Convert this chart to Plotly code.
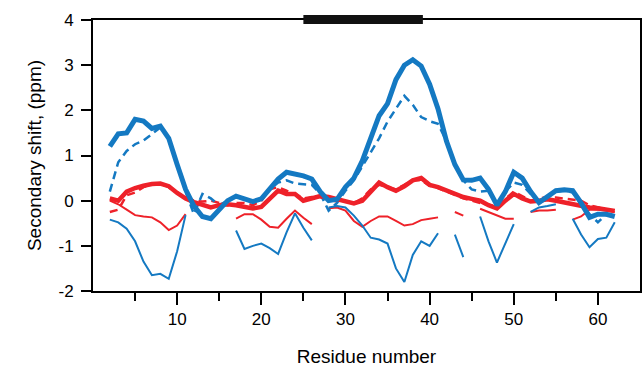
import plotly.graph_objects as go

residues = list(range(2, 63))

blue_thick = [1.20, 1.48, 1.50, 1.80, 1.76, 1.60, 1.65, 1.38, 0.80, 0.25,
              -0.12, -0.35, -0.40, -0.18, 0.00, 0.10, 0.04, -0.02, 0.04, 0.28,
              0.48, 0.63, 0.60, 0.55, 0.48, 0.20, 0.00, 0.03, 0.30, 0.50,
              0.88, 1.40, 1.88, 2.15, 2.68, 3.00, 3.12, 2.98, 2.58, 2.03,
              1.32, 0.80, 0.46, 0.45, 0.50, 0.25, -0.10, 0.20, 0.63, 0.50,
              0.20, -0.04, 0.10, 0.22, 0.24, 0.22, -0.05, -0.37, -0.30, -0.30,
              -0.35]

blue_dash = [0.20, 0.85, 1.10, 1.25, 1.33, 1.47, 1.62, 1.38, 0.80, 0.20,
             -0.30, 0.15, 0.05, -0.10, 0.00, 0.10, 0.04, -0.02, 0.04, 0.25,
             0.40, 0.45, 0.38, 0.37, 0.35, 0.15, -0.22, -0.05, 0.22, 0.45,
             0.75, 1.05, 1.38, 1.75, 2.05, 2.32, 2.12, 1.85, 1.76, 1.70,
             1.32, 0.80, 0.45, 0.25, 0.20, 0.22, -0.08, 0.20, 0.40, 0.35,
             0.15, -0.02, 0.10, 0.20, 0.22, 0.18, -0.05, -0.30, -0.48, -0.30,
             -0.32]

blue_thin = [-0.42, -0.48, -0.62, -0.90, -1.35, -1.65, -1.62, -1.73, -1.12, -0.32,
             None, None, None, None, None, -0.66, -1.07, -1.00, -0.95, -1.05,
             -1.18, -0.70, -0.28, -0.60, -0.88, None, -0.15, -0.12, -0.15, -0.33,
             -0.55, -0.82, -0.86, -0.95, -1.50, -1.80, -1.20, -0.90, -1.00, -0.72,
             None, -0.75, -1.25, None, -0.35, -0.90, -1.37, -0.95, -0.52, None,
             -0.25, -0.15, -0.12, -0.08, None, -0.40, -0.75, -1.03, -0.85, -0.82,
             -0.48]

red_thick = [0.05, 0.00, 0.20, 0.28, 0.33, 0.37, 0.38, 0.32, 0.17, 0.05,
             -0.03, -0.10, -0.15, -0.10, -0.08, -0.10, -0.13, -0.17, -0.14, 0.05,
             0.22, 0.15, 0.15, 0.00, 0.05, 0.10, 0.08, 0.03, 0.00, -0.06,
             0.00, 0.20, 0.40, 0.30, 0.22, 0.32, 0.45, 0.50, 0.35, 0.30,
             0.22, 0.15, 0.08, 0.04, 0.00, -0.10, -0.17, 0.00, 0.15, 0.05,
             -0.02, 0.00, 0.03, 0.00, -0.04, -0.06, -0.10, -0.15, -0.17, -0.20,
             -0.23]

red_dash = [-0.25, -0.20, 0.12, 0.18, 0.30, 0.36, 0.38, 0.30, 0.18, 0.08,
            0.00, -0.02, 0.00, -0.05, -0.10, -0.05, -0.05, -0.10, 0.00, 0.25,
            0.30, 0.22, 0.15, 0.05, 0.08, 0.08, 0.02, -0.02, -0.02, -0.05,
            0.05, 0.25, 0.35, 0.30, 0.25, 0.35, 0.45, 0.45, 0.33, 0.28,
            0.20, 0.12, 0.05, 0.00, -0.05, -0.10, -0.12, 0.05, 0.20, 0.10,
            0.00, 0.05, 0.08, 0.07, 0.05, 0.02, 0.00, -0.10, -0.15, -0.20,
            -0.22]

red_thin = [0.00, -0.08, -0.20, -0.32, -0.35, -0.37, -0.48, -0.65, -0.55, -0.30,
            None, None, None, None, None, -0.40, -0.30, -0.30, -0.42, -0.58,
            -0.60, -0.40, -0.22, -0.38, -0.52, None, -0.17, -0.15, -0.22, -0.45,
            -0.58, -0.45, -0.35, -0.35, -0.45, -0.55, -0.52, -0.43, -0.40, -0.37,
            None, -0.25, -0.33, None, -0.18, -0.25, -0.33, -0.40, -0.40, None,
            -0.25, -0.22, -0.22, -0.20, None, -0.42, -0.35, -0.20, -0.20, -0.22,
            -0.25]

x_ticks = [10, 20, 30, 40, 50, 60]
x_minor = [5, 15, 25, 35, 45, 55]
y_ticks = [-2, -1, 0, 1, 2, 3, 4]
y_ticktext = ["-2", "-1", "0", "1", "2", "3", "4"]
bar_span = [25, 39.2]

BLUE = "#1479C2"
RED = "#EE2129"

fig = go.Figure()

def add(y, color, width, dash="solid"):
    fig.add_trace(go.Scatter(x=residues, y=y, mode="lines",
                             line=dict(color=color, width=width, dash=dash),
                             connectgaps=False, showlegend=False, hoverinfo="skip"))

add(red_thin, RED, 2)
add(blue_thin, BLUE, 2)
add(red_dash, RED, 2.5, "8px,5px")
add(blue_dash, BLUE, 2.5, "8px,5px")
add(red_thick, RED, 4.5)
add(blue_thick, BLUE, 5)

fig.add_shape(type="rect", xref="x", yref="paper",
              x0=bar_span[0], x1=bar_span[1], y0=0.985, y1=1.018,
              fillcolor="#111111", line=dict(width=0), layer="above")

font = "Liberation Sans, Arial, sans-serif"
fig.update_layout(
    width=643, height=371,
    margin=dict(l=93, r=3, t=20, b=80),
    plot_bgcolor="white", paper_bgcolor="white",
    font=dict(family=font, size=17, color="black"),
    xaxis=dict(range=[0, 65], tickmode="array", tickvals=x_ticks,
               ticks="outside", ticklen=12, tickwidth=2, tickcolor="black",
               showline=True, linecolor="black", linewidth=2, mirror=True,
               showgrid=False, zeroline=False, automargin=False,
               minor=dict(tickmode="array", tickvals=x_minor, ticks="outside",
                          ticklen=8, tickwidth=2, tickcolor="black", showgrid=False),
               title=dict(text="Residue number", font=dict(size=19), standoff=21)),
    yaxis=dict(range=[-2, 4], tickmode="array", tickvals=y_ticks, ticktext=y_ticktext,
               ticks="outside", ticklen=10, tickwidth=2, tickcolor="black",
               showline=True, linecolor="black", linewidth=2, mirror=True,
               showgrid=False, zeroline=False, automargin=False,
               ticklabelstandoff=4,
               title=dict(text="Secondary shift, (ppm)", font=dict(size=19), standoff=12)),
)

fig.write_html("out.html",
               config={"displayModeBar": False},
               post_script="document.body.style.margin='0';document.body.style.overflow='hidden';")
